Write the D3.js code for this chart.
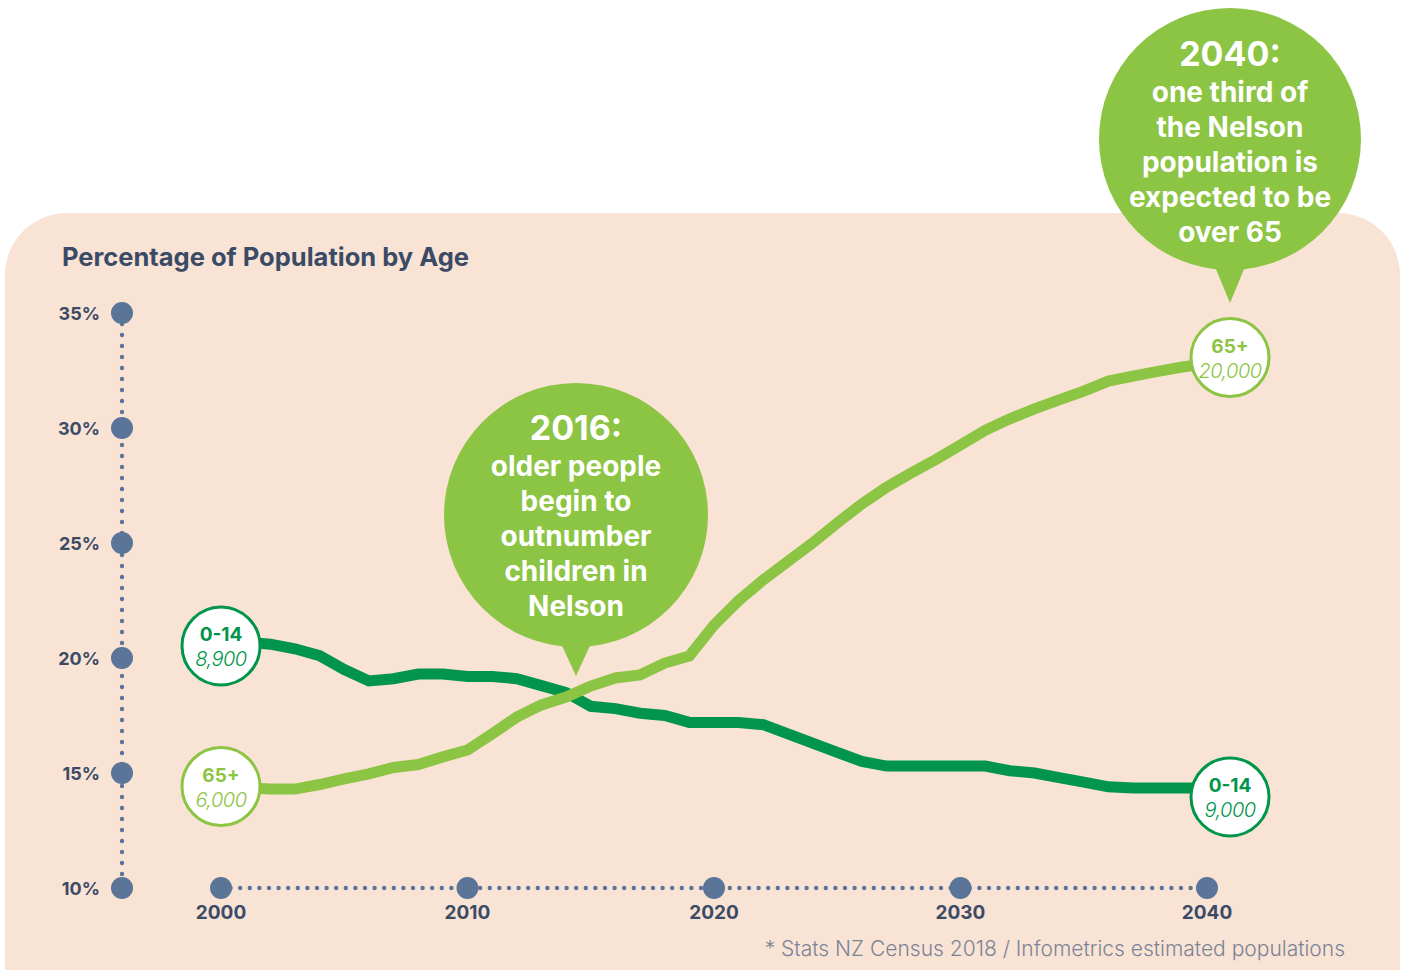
<!DOCTYPE html>
<html>
<head>
<meta charset="utf-8">
<script src="https://cdn.jsdelivr.net/npm/d3@7"></script>
<style>
  body { margin: 0; background: #fff; }
  svg { display: block; font-family: Inter, "Open Sans", sans-serif; }
</style>
</head>
<body>
<div class="chart"></div>
<script>
// yearly share of population (%)
const years = d3.range(2000, 2041);
const kids = [20.7, 20.7, 20.6, 20.4, 20.1, 19.5, 19.0, 19.1, 19.3, 19.3,
              19.2, 19.2, 19.1, 18.8, 18.5, 17.9, 17.8, 17.6, 17.5, 17.2,
              17.2, 17.2, 17.1, 16.7, 16.3, 15.9, 15.5, 15.3, 15.3, 15.3,
              15.3, 15.3, 15.1, 15.0, 14.8, 14.6, 14.4, 14.35, 14.35, 14.35,
              14.35];
const seniors = [14.5, 14.35, 14.3, 14.3, 14.5, 14.74, 14.96, 15.24, 15.37, 15.7,
                 16.0, 16.7, 17.43, 17.96, 18.3, 18.78, 19.13, 19.26, 19.78, 20.09,
                 21.43, 22.5, 23.4, 24.2, 25.0, 25.87, 26.7, 27.43, 28.04, 28.63,
                 29.26, 29.9, 30.4, 30.83, 31.22, 31.6, 32.04, 32.26, 32.46, 32.65,
                 32.8];
const yTicks = [10, 15, 20, 25, 30, 35];
const xTicks = [2000, 2010, 2020, 2030, 2040];

const ends = [
  {name: "0-14", series: kids, color: "#00954a", start: "8,900", end: "9,000", dyS: 4, dyE: 9},
  {name: "65+", series: seniors, color: "#8cc443", start: "6,000", end: "20,000", dyS: 2, dyE: -6}
];

const bubbles = [
  {cx: 576, cy: 515, r: 132, tip: 676, head: "2016:", lines: ["older people", "begin to", "outnumber", "children in", "Nelson"], top: 428},
  {cx: 1230, cy: 139, r: 131, tip: 303, head: "2040:", lines: ["one third of", "the Nelson", "population is", "expected to be", "over 65"], top: 54}
];

const W = 1410, H = 970;
const blue = "#5a7598", ink = "#3b4b66";

const svg = d3.select(".chart").append("svg")
  .attr("width", W).attr("height", H);

svg.append("rect")
  .attr("x", 5).attr("y", 213)
  .attr("width", 1395).attr("height", 820)
  .attr("rx", 62)
  .attr("fill", "#f9e3d5");

const x = d3.scaleLinear().domain([2000, 2040]).range([221, 1207]);
const y = d3.scaleLinear().domain([10, 35]).range([888, 313]);

svg.append("text")
  .attr("x", 62).attr("y", 266)
  .attr("font-size", 25.5).attr("font-weight", 700)
  .attr("fill", ink)
  .text("Percentage of Population by Age");

// y axis: dotted line with big dots
const yAxis = svg.append("g");
yAxis.append("line")
  .attr("x1", 122).attr("x2", 122)
  .attr("y1", y(35)).attr("y2", y(10))
  .attr("stroke", blue).attr("stroke-width", 4.4)
  .attr("stroke-linecap", "round")
  .attr("stroke-dasharray", "0 11");
yAxis.selectAll("circle").data(yTicks).enter().append("circle")
  .attr("cx", 122).attr("cy", d => y(d)).attr("r", 11)
  .attr("fill", blue);
yAxis.selectAll("text").data(yTicks).enter().append("text")
  .attr("x", 100).attr("y", d => y(d) + 7)
  .attr("text-anchor", "end")
  .attr("font-size", 18).attr("font-weight", 700)
  .attr("fill", ink)
  .text(d => d + "%");

// x axis
const xAxis = svg.append("g");
xAxis.append("line")
  .attr("x1", x(2000)).attr("x2", x(2040))
  .attr("y1", y(10)).attr("y2", y(10))
  .attr("stroke", blue).attr("stroke-width", 4.4)
  .attr("stroke-linecap", "round")
  .attr("stroke-dasharray", "0 9.6");
xAxis.selectAll("circle").data(xTicks).enter().append("circle")
  .attr("cx", d => x(d)).attr("cy", y(10)).attr("r", 11)
  .attr("fill", blue);
xAxis.selectAll("text").data(xTicks).enter().append("text")
  .attr("x", d => x(d)).attr("y", 919)
  .attr("text-anchor", "middle")
  .attr("font-size", 19).attr("font-weight", 700)
  .attr("fill", ink)
  .text(d => d);

// lines
const line = d3.line()
  .x((d, i) => x(years[i]))
  .y(d => y(d));

svg.selectAll(".series").data(ends).enter().append("path")
  .attr("class", "series")
  .attr("d", d => line(d.series))
  .attr("fill", "none")
  .attr("stroke", d => d.color)
  .attr("stroke-width", 11)
  .attr("stroke-linejoin", "miter");

// end labels
function endLabel(d, xPos, yPos, val) {
  const g = svg.append("g").attr("transform", `translate(${xPos},${yPos})`);
  g.append("circle").attr("r", 39)
    .attr("fill", "#fff").attr("stroke", d.color).attr("stroke-width", 3);
  g.append("text").attr("y", -5)
    .attr("text-anchor", "middle")
    .attr("font-size", 19).attr("font-weight", 700)
    .attr("fill", d.color).text(d.name);
  g.append("text").attr("y", 20)
    .attr("text-anchor", "middle")
    .attr("font-size", 20).attr("font-weight", 300).attr("font-style", "italic")
    .attr("letter-spacing", -0.5)
    .attr("fill", d.color).text(val);
}
ends.forEach(d => {
  endLabel(d, x(2000), y(d.series[0]) + d.dyS, d.start);
  endLabel(d, x(2040) + 23, y(d.series[40]) + d.dyE, d.end);
});

// callout bubbles
bubbles.forEach(b => {
  const g = svg.append("g");
  g.append("path")
    .attr("d", `M${b.cx - 17},${b.cy + b.r - 8} L${b.cx},${b.tip} L${b.cx + 17},${b.cy + b.r - 8} Z`)
    .attr("fill", "#8cc443");
  g.append("circle")
    .attr("cx", b.cx).attr("cy", b.cy).attr("r", b.r)
    .attr("fill", "#8cc443");
  g.append("text")
    .attr("x", b.cx).attr("y", b.top + 12)
    .attr("text-anchor", "middle")
    .attr("font-size", 34).attr("font-weight", 700)
    .attr("fill", "#fff").text(b.head);
  g.selectAll(".ln").data(b.lines).enter().append("text")
    .attr("x", b.cx).attr("y", (d, i) => b.top + 48 + i * 35)
    .attr("text-anchor", "middle")
    .attr("font-size", 28).attr("font-weight", 700)
    .attr("fill", "#fff").text(d => d);
});

svg.append("text")
  .attr("x", 1345).attr("y", 956)
  .attr("text-anchor", "end")
  .attr("font-size", 21).attr("font-weight", 300)
  .attr("fill", "#7b8497")
  .text("* Stats NZ Census 2018 / Infometrics estimated populations");
</script>
</body>
</html>
